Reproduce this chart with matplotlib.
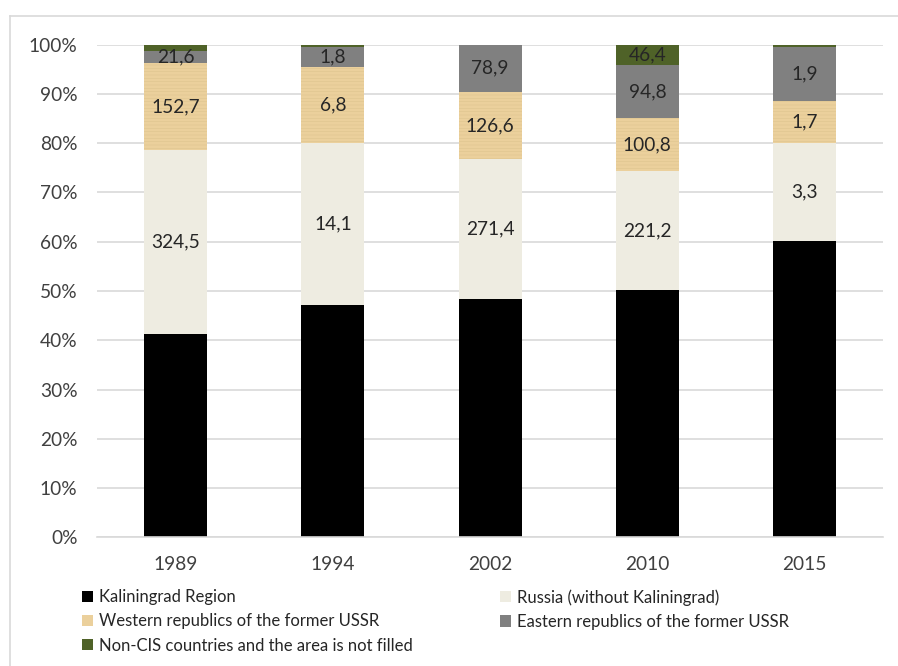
import matplotlib.pyplot as plt
import numpy as np
from matplotlib.patches import Patch
from matplotlib.lines import Line2D

plt.rcParams['font.family'] = ['Lato', 'DejaVu Sans']
plt.rcParams['hatch.linewidth'] = 0.4

# shares of each group, %
years = ['1989', '1994', '2002', '2010', '2015']
kaliningrad = [41.2, 47.1, 48.4, 50.2, 60.1]
russia = [37.4, 33.0, 28.4, 24.1, 20.0]
western = [17.6, 15.3, 13.6, 10.8, 8.4]
eastern = [2.5, 4.1, 9.6, 10.7, 11.0]
non_cis = [1.3, 0.5, 0.0, 4.2, 0.5]

# numbers printed on the segments
russia_lbl = ['324,5', '14,1', '271,4', '221,2', '3,3']
western_lbl = ['152,7', '6,8', '126,6', '100,8', '1,7']
eastern_lbl = ['21,6', '1,8', '78,9', '94,8', '1,9']
non_cis_lbl = ['', '', '', '46,4', '']

names = ['Kaliningrad Region', 'Russia (without Kaliningrad)',
         'Western republics of the former USSR',
         'Eastern republics of the former USSR',
         'Non-CIS countries and the area is not filled']
colors = ['#000000', '#EEECE1', '#EBD09C', '#808080', '#4F6228']

fig = plt.figure(figsize=(8.98, 6.66), dpi=100)
ax = fig.add_axes([0.108, 0.193, 0.8755, 0.740])

x = np.arange(len(years))
width = 0.4
series = [kaliningrad, russia, western, eastern, non_cis]
labels = [None, russia_lbl, western_lbl, eastern_lbl, non_cis_lbl]
bottom = np.zeros(len(years))
for i, (vals, col) in enumerate(zip(series, colors)):
    vals = np.array(vals)
    kw = {}
    if i == 2:
        kw = dict(hatch='-----', edgecolor='#DEC48F')
    bars = ax.bar(x, vals, width, bottom=bottom, color=col, linewidth=0,
                  zorder=2, **kw)
    if labels[i] is not None:
        ax.bar_label(bars, labels=labels[i], label_type='center',
                     fontsize=13.8, color='#262626', zorder=3)
    bottom += vals

ax.set_xlim(-0.5, len(years) - 0.5)
ax.set_ylim(0, 100)
ax.set_xticks(x, years)
ax.set_yticks(np.arange(0, 101, 10), [f'{v}%' for v in range(0, 101, 10)])
ax.yaxis.grid(True, color='#D9D9D9', linewidth=1.2, zorder=0)
ax.set_axisbelow(True)
for s in ['top', 'right', 'left']:
    ax.spines[s].set_visible(False)
ax.spines['bottom'].set_color('#D9D9D9')
ax.spines['bottom'].set_linewidth(1.2)
ax.tick_params(axis='both', length=0, labelsize=13.8, colors='#404040')
ax.tick_params(axis='y', pad=14)
ax.tick_params(axis='x', pad=13)

# outer chart frame
fig.add_artist(Line2D([10 / 898, 10 / 898], [0, 1 - 16 / 666],
                      transform=fig.transFigure, color='#D9D9D9', lw=1.2))
fig.add_artist(Line2D([10 / 898, 1], [1 - 16 / 666, 1 - 16 / 666],
                      transform=fig.transFigure, color='#D9D9D9', lw=1.2))

handles = [Patch(facecolor=c, edgecolor='none') for c in colors]
leg_kw = dict(frameon=False, fontsize=12, handlelength=0.65, handleheight=0.65,
              handletextpad=0.35, labelspacing=0.5, borderpad=0,
              borderaxespad=0, loc='upper left', labelcolor='#262626')
fig.legend([handles[0], handles[2], handles[4]], [names[0], names[2], names[4]],
           bbox_to_anchor=(82 / 898, 1 - 589 / 666), **leg_kw)
fig.legend([handles[1], handles[3]], [names[1], names[3]],
           bbox_to_anchor=(500 / 898, 1 - 589 / 666), **leg_kw)

fig.savefig('out.png', dpi=100)
